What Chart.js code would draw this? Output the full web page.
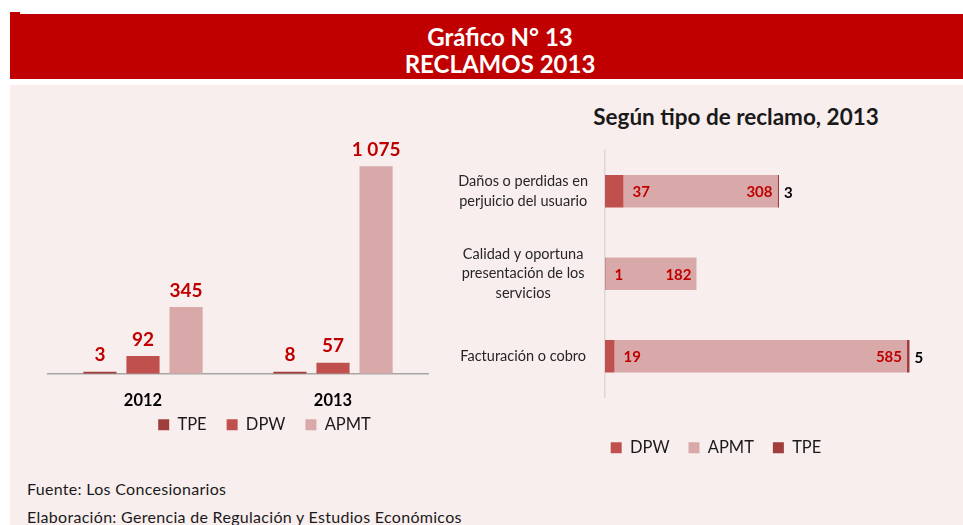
<!DOCTYPE html>
<html>
<head>
<meta charset="utf-8">
<script src="https://cdn.jsdelivr.net/npm/chart.js@4/dist/chart.umd.min.js"></script>
<style>
  html, body { margin: 0; padding: 0; width: 963px; height: 525px; overflow: hidden; background: #fff; font-family: Lato, "Open Sans", sans-serif; }
  .tab { position: absolute; left: 10px; top: 12px; width: 10px; height: 2px; background: #C00000; }
  .head { position: absolute; left: 10px; top: 14px; width: 980px; height: 65px; background: #C00000; color: #fff;
          text-align: center; font-weight: bold; font-size: 24px; line-height: 27px; padding-top: 9px; box-sizing: border-box; }
  .panel { position: absolute; left: 10px; top: 85px; width: 970px; height: 450px; background: #F9EEEE; }
  .sub { position: absolute; left: 540px; top: 103px; width: 392px; text-align: center; font-weight: bold; font-size: 22.5px; color: #1a1a1a; }
  .note { position: absolute; left: 27px; font-size: 16px; letter-spacing: 0.3px; color: #1a1a1a; }
  canvas { position: absolute; }
</style>
</head>
<body>
<div class="tab"></div>
<div class="head">Gráfico N° 13<br>RECLAMOS 2013</div>
<div class="panel"></div>
<div class="sub">Según tipo de reclamo, 2013</div>
<div style="position:absolute;left:0;top:86px;width:529px;height:391px;"><canvas id="c1"></canvas></div>
<div style="position:absolute;left:440px;top:95px;width:552px;height:373px;"><canvas id="c2"></canvas></div>
<div class="note" style="top:479px;">Fuente: Los Concesionarios</div>
<div class="note" style="top:507px;">Elaboración: Gerencia de Regulación y Estudios Económicos</div>

<script>
// datos
const years = ['2012', '2013'];
const tpeYear = [3, 8];
const dpwYear = [92, 57];
const apmtYear = [345, 1075];

const tipos = [['Daños o perdidas en', 'perjuicio del usuario'], ['Calidad y oportuna', 'presentación de los', 'servicios'], 'Facturación o cobro'];
const dpwTipo = [37, 1, 19];
const apmtTipo = [308, 182, 585];
const tpeTipo = [3, 0, 5];

const C_TPE = '#A03D3D', C_DPW = '#C0504D', C_APMT = '#D9A9A9', C_RED = '#C00000';
const FONT = 'Lato, "Open Sans", sans-serif';

function fmt(v) { return v.toLocaleString('en-US').replace(/,/g, ' '); }

// etiquetas encima de las barras (grafico izquierdo)
const topLabels = {
  id: 'topLabels',
  afterDatasetsDraw(chart) {
    const ctx = chart.ctx;
    ctx.save();
    ctx.font = 'bold 19px ' + FONT;
    ctx.fillStyle = C_RED;
    ctx.textAlign = 'center';
    ctx.textBaseline = 'bottom';
    chart.data.datasets.forEach((ds, i) => {
      chart.getDatasetMeta(i).data.forEach((bar, j) => {
        ctx.fillText(fmt(ds.data[j]), bar.x, bar.y - 7);
      });
    });
    ctx.restore();
  }
};

// subir un poco la leyenda, mas cerca de los años
const legendUp = {
  id: 'legendUp',
  afterLayout(chart) {
    chart.legend.top -= 31;
    chart.legend.bottom -= 31;
  }
};

// etiquetas de las barras apiladas (grafico derecho)
const stackLabels = {
  id: 'stackLabels',
  afterDatasetsDraw(chart) {
    const ctx = chart.ctx;
    ctx.save();
    ctx.font = 'bold 15px ' + FONT;
    ctx.textBaseline = 'middle';
    chart.data.datasets.forEach((ds, i) => {
      chart.getDatasetMeta(i).data.forEach((bar, j) => {
        const v = ds.data[j];
        if (!v) return;
        if (ds.label === 'DPW') {
          ctx.fillStyle = C_RED; ctx.textAlign = 'left';
          ctx.fillText(v, bar.x + 9, bar.y + 1);
        } else if (ds.label === 'APMT') {
          ctx.fillStyle = C_RED; ctx.textAlign = 'right';
          ctx.fillText(v, bar.x - 5, bar.y + 1);
        } else {
          ctx.fillStyle = '#000'; ctx.textAlign = 'left';
          ctx.fillText(v, bar.x + 5, bar.y + 2);
        }
      });
    });
    ctx.restore();
  }
};

new Chart(document.getElementById('c1'), {
  type: 'bar',
  data: {
    labels: years,
    datasets: [
      { label: 'TPE', data: tpeYear, backgroundColor: C_TPE },
      { label: 'DPW', data: dpwYear, backgroundColor: C_DPW },
      { label: 'APMT', data: apmtYear, backgroundColor: C_APMT }
    ]
  },
  options: {
    responsive: true,
    maintainAspectRatio: false,
    animation: false,
    categoryPercentage: 0.68,
    barPercentage: 0.77,
    minBarLength: 2,
    layout: { padding: { top: 56, left: 48, right: 48, bottom: 3 } },
    plugins: {
      legend: {
        position: 'bottom',
        labels: { boxWidth: 11, boxHeight: 11, padding: 20, color: '#1a1a1a', font: { family: FONT, size: 16.5 } }
      },
      tooltip: { enabled: false }
    },
    scales: {
      x: {
        grid: { display: false, drawTicks: false },
        border: { display: true, color: '#A6A6A6', width: 1.5 },
        ticks: { padding: 17, color: '#000', font: { family: FONT, size: 16.5, weight: 'bold' } }
      },
      y: {
        position: 'right', min: 0, max: 1200,
        afterFit(s) { s.width = 53; },
        ticks: { display: false }, grid: { display: false }, border: { display: false }
      }
    }
  },
  plugins: [topLabels, legendUp]
});

new Chart(document.getElementById('c2'), {
  type: 'bar',
  data: {
    labels: tipos,
    datasets: [
      { label: 'DPW', data: dpwTipo, backgroundColor: C_DPW },
      { label: 'APMT', data: apmtTipo, backgroundColor: C_APMT },
      { label: 'TPE', data: tpeTipo, backgroundColor: C_TPE }
    ]
  },
  options: {
    indexAxis: 'y',
    responsive: true,
    maintainAspectRatio: false,
    animation: false,
    categoryPercentage: 0.8,
    barPercentage: 0.49,
    layout: { padding: { top: 55, left: 0, right: 0, bottom: 2 } },
    plugins: {
      legend: {
        position: 'bottom',
        labels: { boxWidth: 11, boxHeight: 11, padding: 19, color: '#1a1a1a', font: { family: FONT, size: 16.5 } }
      },
      tooltip: { enabled: false }
    },
    scales: {
      x: {
        stacked: true, min: 0, max: 640,
        afterFit(s) { s.height = 23; },
        ticks: { display: false }, grid: { display: false }, border: { display: false }
      },
      y: {
        stacked: true,
        afterFit(s) { s.width = 165; },
        grid: { display: false, drawTicks: false },
        border: { display: true, color: '#D9D9D9', width: 1.5 },
        ticks: { padding: 17, crossAlign: 'center', color: '#262626', font: { family: FONT, size: 14.5, lineHeight: 1.35 } }
      },
      y2: {
        type: 'linear', position: 'right',
        afterFit(s) { s.width = 67; },
        ticks: { display: false }, grid: { display: false }, border: { display: false }
      }
    }
  },
  plugins: [stackLabels]
});
</script>
</body>
</html>
